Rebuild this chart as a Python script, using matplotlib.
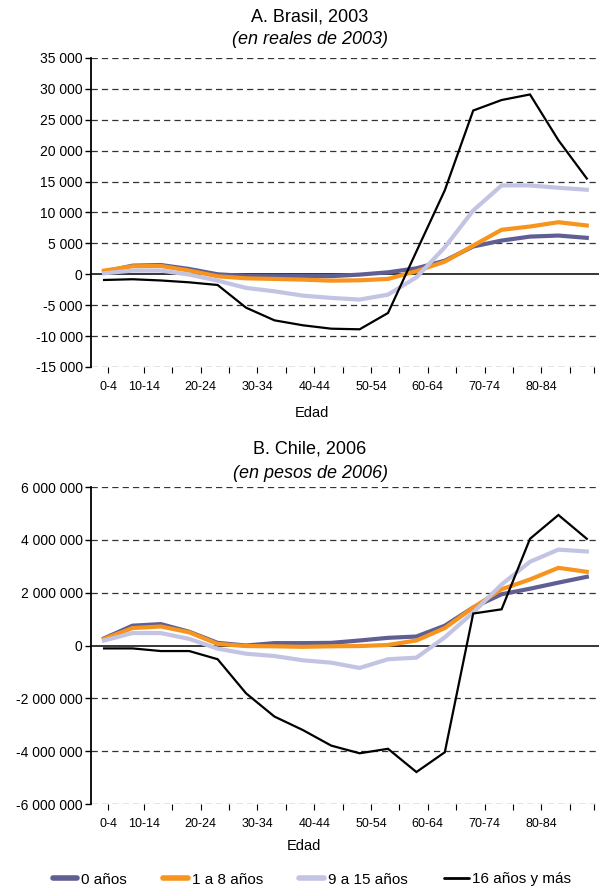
import matplotlib
matplotlib.use("Agg")
import matplotlib.pyplot as plt
from matplotlib.lines import Line2D

plt.rcParams['font.family'] = ['Liberation Sans', 'DejaVu Sans']

# Age groups (x axis)
edades = ["0-4", "5-9", "10-14", "15-19", "20-24", "25-29", "30-34", "35-39",
          "40-44", "45-49", "50-54", "55-59", "60-64", "65-69", "70-74",
          "75-79", "80-84", "85-89"]

series_names = ["0 años", "1 a 8 años", "9 a 15 años", "16 años y más"]

# A. Brasil, 2003 (reales de 2003)
brasil_0 = [400, 1400, 1500, 860, 0, -270, -300, -300, -300, -50,
            320, 970, 2200, 4500, 5460, 6100, 6270, 5900]
brasil_1_8 = [600, 1300, 1350, 600, -320, -650, -750, -860, -1030, -970,
              -750, 500, 2050, 4650, 7200, 7730, 8430, 7900]
brasil_9_15 = [160, 600, 600, -50, -1030, -2200, -2750, -3450, -3820, -4090,
               -3290, -490, 4380, 10320, 14380, 14380, 14000, 13680]
brasil_16 = [-920, -800, -1000, -1300, -1730, -5400, -7450, -8250, -8800, -8900,
             -6260, 3700, 13600, 26500, 28200, 29100, 21700, 15500]

# B. Chile, 2006 (pesos de 2006)
chile_0 = [270000, 750000, 810000, 520000, 100000, 0, 90000, 90000, 100000, 190000,
           290000, 340000, 750000, 1440000, 1940000, 2150000, 2380000, 2600000]
chile_1_8 = [250000, 660000, 720000, 500000, 60000, -20000, -30000, -50000, -30000, -20000,
             20000, 190000, 660000, 1440000, 2130000, 2500000, 2940000, 2790000]
chile_9_15 = [190000, 470000, 470000, 250000, -120000, -310000, -400000, -560000, -650000, -850000,
              -520000, -460000, 310000, 1250000, 2310000, 3170000, 3630000, 3560000]
chile_16 = [-110000, -110000, -210000, -210000, -520000, -1810000, -2690000, -3200000, -3790000, -4080000,
            -3910000, -4790000, -4040000, 1210000, 1370000, 4040000, 4940000, 4040000]

brasil_ticks = [-15000, -10000, -5000, 0, 5000, 10000, 15000, 20000, 25000, 30000, 35000]
chile_ticks = [-6000000, -4000000, -2000000, 0, 2000000, 4000000, 6000000]

colors = ["#5f5f94", "#f7941e", "#c3c3e3", "#000000"]
widths = [3.0, 3.0, 3.0, 1.6]


def fmt_num(v):
    s = f"{abs(int(v)):,}".replace(",", " ")
    return ("-" if v < 0 else "") + s


def draw_panel(ax, data, yticks, xlabel_pos):
    x = list(range(len(edades)))
    for vals, c, lw in zip(data, colors, widths):
        ax.plot(x, vals, color=c, lw=lw, solid_joinstyle="miter", zorder=3)
    ax.set_xlim(-0.46, 17.43)
    ax.set_ylim(yticks[0], yticks[-1])
    ax.set_yticks(yticks)
    ax.set_yticklabels([fmt_num(v) for v in yticks], fontsize=10)
    for v in yticks:
        if v == 0:
            ax.axhline(0, color="black", lw=1.1, zorder=2)
        else:
            ax.axhline(v, color="#333333", lw=0.9, dashes=(5, 3.3), zorder=1)
    # category ticks between groups, labels every other group
    tick_pos = [0.15] + [i + 0.4 for i in range(1, 17)] + [17.25]
    labels = [""] * len(tick_pos)
    labels[0] = edades[0]
    for k, j in enumerate(range(2, len(edades), 2)):
        labels[1 + 2 * k] = edades[j]
    ax.set_xticks(tick_pos)
    ax.set_xticklabels(labels, fontsize=9)
    ax.tick_params(axis="x", direction="out", length=4, width=0.8, pad=6)
    ax.tick_params(axis="y", direction="out", length=4, width=1.0, pad=2)
    for s in ["top", "right", "bottom"]:
        ax.spines[s].set_visible(False)
    ax.spines["left"].set_linewidth(1.3)
    ax.set_xlabel("Edad", fontsize=10.5)
    ax.xaxis.set_label_coords(*xlabel_pos)


fig = plt.figure(figsize=(6.0, 8.86), dpi=100)
ax1 = fig.add_axes([91 / 600, 1 - 367 / 886, 508 / 600, 309 / 886])
ax2 = fig.add_axes([91 / 600, 1 - 804 / 886, 508 / 600, 317 / 886])

draw_panel(ax1, [brasil_0, brasil_1_8, brasil_9_15, brasil_16], brasil_ticks, (0.435, -0.125))
draw_panel(ax2, [chile_0, chile_1_8, chile_9_15, chile_16], chile_ticks, (0.419, -0.11))

fig.text(310 / 600, 1 - 17 / 886, "A. Brasil, 2003", ha="center", va="center", fontsize=13)
fig.text(310 / 600, 1 - 40 / 886, "(en reales de 2003)", ha="center", va="center",
         fontsize=13, style="italic")
fig.text(310 / 600, 1 - 449 / 886, "B. Chile, 2006", ha="center", va="center", fontsize=13)
fig.text(310 / 600, 1 - 473 / 886, "(en pesos de 2006)", ha="center", va="center",
         fontsize=13, style="italic")

handles = [Line2D([], [], color=c, lw=lw + (1.0 if lw > 2 else 0.4), solid_capstyle="round")
           for c, lw in zip(colors, widths)]
fig.legend(handles, series_names, loc="center", bbox_to_anchor=(0.52, 6.5 / 886),
           ncol=4, frameon=False, fontsize=11, handlelength=1.6, handletextpad=0.25,
           columnspacing=2.4, borderpad=0, borderaxespad=0)

fig.savefig("out.png", dpi=100)
